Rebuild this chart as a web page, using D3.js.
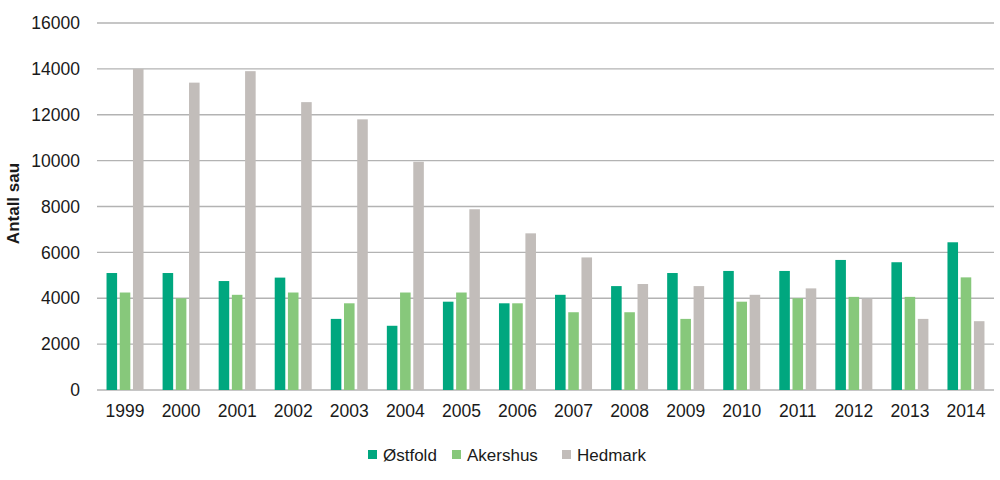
<!DOCTYPE html>
<html>
<head>
<meta charset="utf-8">
<script src="https://cdn.jsdelivr.net/npm/d3@7"></script>
<style>
  body { margin: 0; background: #fff; }
  text { font-family: "Liberation Sans", Arial, sans-serif; fill: #1a1a1a; }
</style>
</head>
<body>
<div id="chart"></div>
<script>
const years = ['1999','2000','2001','2002','2003','2004','2005','2006','2007','2008','2009','2010','2011','2012','2013','2014']
const seriesNames = ['Østfold', 'Akershus', 'Hedmark']
const ostfold  = [5100, 5100, 4750, 4900, 3100, 2800, 3850, 3780, 4150, 4530, 5100, 5190, 5190, 5670, 5570, 6440]
const akershus = [4250, 4000, 4150, 4250, 3780, 4250, 4250, 3780, 3390, 3390, 3100, 3850, 4000, 4060, 4060, 4910]
const hedmark  = [14000, 13400, 13900, 12550, 11800, 9950, 7880, 6830, 5780, 4620, 4530, 4150, 4430, 3980, 3100, 3000]
const yTicks = [0, 2000, 4000, 6000, 8000, 10000, 12000, 14000, 16000]

const colors = {
  'Østfold': '#00a77f',
  'Akershus': '#87c87b',
  'Hedmark': '#c2bdba'
}

const width = 1000, height = 480
const margin = { left: 97, right: 6, top: 23, bottom: 90 }

const svg = d3.select('#chart').append('svg')
  .attr('width', width)
  .attr('height', height)

const x = d3.scaleBand()
  .domain(years)
  .range([margin.left, width - margin.right])

const xInner = d3.scaleBand()
  .domain(seriesNames)
  .range([0, 37])
  .paddingInner(0.2)

const y = d3.scaleLinear()
  .domain([0, 16000])
  .range([height - margin.bottom, margin.top])

// gridlines
svg.append('g')
  .selectAll('line')
  .data(yTicks)
  .join('line')
    .attr('x1', margin.left)
    .attr('x2', width - margin.right)
    .attr('y1', d => y(d))
    .attr('y2', d => y(d))
    .style('stroke', '#b3b3b3')
    .style('stroke-width', 1.3)

// y tick labels
svg.append('g')
  .selectAll('text')
  .data(yTicks)
  .join('text')
    .attr('x', 80)
    .attr('y', d => y(d))
    .attr('dy', '0.35em')
    .attr('text-anchor', 'end')
    .style('font-size', '17.5px')
    .text(d => d)

// y title
svg.append('text')
  .attr('transform', `translate(19, ${y(8000) - 3}) rotate(-90)`)
  .attr('text-anchor', 'middle')
  .style('font-size', '17px')
  .style('font-weight', 'bold')
  .text('Antall sau')

// bars
const rows = years.map((yr, i) => ({
  year: yr,
  values: [ostfold[i], akershus[i], hedmark[i]]
}))

const groups = svg.append('g')
  .selectAll('g')
  .data(rows)
  .join('g')
    .attr('transform', d => `translate(${x(d.year) + x.bandwidth() / 2 - 18.5}, 0)`)

groups.selectAll('rect')
  .data(d => d.values.map((v, j) => ({ name: seriesNames[j], value: v })))
  .join('rect')
    .attr('x', d => xInner(d.name))
    .attr('width', xInner.bandwidth())
    .attr('y', d => y(d.value))
    .attr('height', d => y(0) - y(d.value))
    .style('fill', d => colors[d.name])

// x labels
svg.append('g')
  .selectAll('text')
  .data(years)
  .join('text')
    .attr('x', d => x(d) + x.bandwidth() / 2)
    .attr('y', 417)
    .attr('text-anchor', 'middle')
    .style('font-size', '17.5px')
    .text(d => d)

// legend
const legendX = [368, 452, 562]
const legend = svg.append('g')
  .selectAll('g')
  .data(seriesNames)
  .join('g')
    .attr('transform', (d, i) => `translate(${legendX[i]}, 455)`)

legend.append('rect')
  .attr('x', 0)
  .attr('y', -5)
  .attr('width', 9)
  .attr('height', 9)
  .style('fill', d => colors[d])

legend.append('text')
  .attr('x', 15)
  .attr('y', 0)
  .attr('dy', '0.35em')
  .style('font-size', '17px')
  .text(d => d)
</script>
</body>
</html>
